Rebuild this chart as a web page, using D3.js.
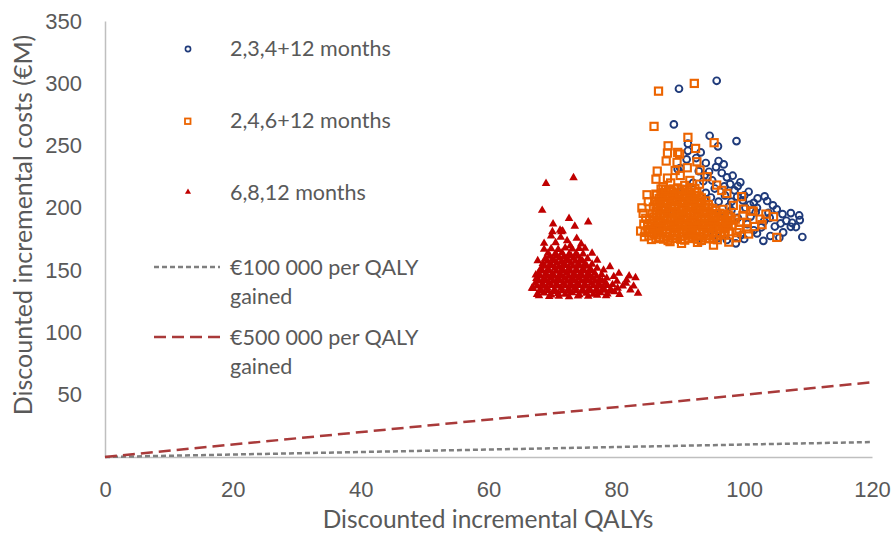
<!DOCTYPE html>
<html>
<head>
<meta charset="utf-8">
<script src="https://cdn.jsdelivr.net/npm/d3@7"></script>
<style>
  body { margin: 0; background: #fff; }
  svg { display: block; font-family: Lato, "Open Sans", sans-serif; }
</style>
</head>
<body>
<svg class="chart"></svg>
<script>
// Series: 2,3,4+12 months (blue circles)
const months234 = [
  [95.7,302],[89.8,295.6],[89.0,267],[94.6,257.9],[98.8,253.6],[95.9,249.4],[91.2,251.5],[91.2,245.8],
  [93.2,244.5],[91.0,238.9],[96.0,237.6],[96.8,234.9],[95.6,232.7],[89.6,231.1],[98.2,225.8],[97.3,224.5],
  [99.4,220.5],[99.0,217.5],[100.7,212.9],[103.2,209.2],[102.1,207.6],[103.6,205.5],[105.1,198.8],[107.3,195.8],
  [108.6,193.9],[108.7,190.2],[106.6,189.6],[105.7,187.5],[107.3,184.8],[108.1,184.6],[106.1,180.3],[109.1,176.6],
  [104.1,177.4],[102.7,184.4],[103.1,189.2],[102.0,179.5],[98.7,171.5],[97.3,174.2],[94.5,229],[93.8,226],
  [96.5,228],[95,222],[97.8,219],[98.5,214],[100,210],[101.5,204],[100.2,200],[104.5,202],[103.8,196],
  [101,193],[100.5,187],[104.8,185],[101.5,182],[99.5,178],[96,176],[93.5,173.5],[92,178],[90,232],
  [92.5,240],[94,236],[97,210],[96,205],[98,198],[99,192],[97,186],[95,182],[100,175],[103,173.5],
  [105.5,176],[92,220],[90.5,215],[89,205],[88,195],[87,185],[91,190],[93,200],[94,212],[92,205],
  [96,195],[98,205],[102,200],[106,195],[107.5,188],[104,192],[99.8,206],[101.8,196.5],[97.6,201],
  [95.4,215.5],[96.9,217.2],[94.8,208.3],[93.6,221.4],[92.9,229.5],[98.9,208.9],[100.9,202.5]
];

// Series: 2,4,6+12 months (orange squares)
const months246 = [
  [86.6,293.7],[92.2,299.9],[85.9,265.4],[91.2,256.6],[95.3,252.3],[92.4,247.7],[88.1,249.8],[88.0,244],
  [87.8,237.6],[89.6,244.5],[89.9,243.2],[89.5,236.5],[92.6,237],[86.4,229.5],[86.2,223],[88.0,223.9],
  [91.1,232.2],[84.8,210.5],[86.2,211],[84.2,195.6],[83.8,181.4],[90.2,171.5],[95.2,170.1],[88.5,220],
  [90,226],[91.5,222],[93,219],[89.2,230],[87.3,217],[90.7,218],[84.3,187],[84,200],[85,205],
  [85.5,174.6],[86.8,176.2],[88.1,173.8],[89.4,175.5],[90.7,174.1],[92.0,176.4],[93.3,173.9],[94.6,175.2],[95.8,174.4],
  [86.2,175.3],[87.4,174.9],[88.8,175.6],[90.1,174.7],[91.3,175.4],[92.7,174.8],[94.0,175.7],[95.2,174.9],
  [85.1,177.6],[86.4,178.3],[87.8,177.2],[89.1,177.9],[90.4,177.4],[91.7,178.1],[93.0,177.3],[94.3,177.8],[95.6,177.5],[96.9,178.2],
  [84.5,180.3],[85.9,179.1],[87.2,181.2],[88.4,179.6],[89.8,180.8],[91.1,178.9],[92.4,181.5],[93.7,179.4],[95.0,180.6],[96.3,179.2],[97.6,180.9],
  [85.2,180.1],[86.6,180.4],[87.8,179.8],[89.1,180.3],[90.5,179.9],[91.8,180.5],[93.0,180.0],[94.4,180.2],[95.7,179.8],[97.0,180.3],
  [85.2,182.6],[86.5,183.1],[87.9,182.4],[89.1,183.2],[90.5,182.7],[91.8,183.0],[93.1,182.5],[94.4,183.3],[95.7,182.8],[97.0,183.1],
  [84.9,185.6],[86.2,184.2],[87.5,186.1],[88.9,184.8],[90.2,185.9],[91.5,184.3],[92.8,186.4],[94.1,184.7],[95.4,185.8],[96.8,184.5],[98.1,186.2],
  [85.6,185.1],[86.9,185.3],[88.2,184.9],[89.6,185.4],[90.9,185.0],[92.2,185.5],[93.5,185.1],[94.8,185.3],[96.1,185.0],[97.5,185.4],
  [85.5,187.4],[86.9,188.0],[88.2,187.2],[89.6,187.9],[90.9,187.5],[92.2,188.1],[93.5,187.3],[94.8,187.8],[96.1,187.6],[97.4,188.2],
  [85.2,190.4],[86.6,189.1],[87.9,191.2],[89.2,189.6],[90.5,190.8],[91.9,189.3],[93.2,191.5],[94.5,189.8],[95.9,190.7],[97.2,189.4],[98.6,190.9],
  [85.9,190.2],[87.3,190.0],[88.6,190.5],[89.9,190.1],[91.2,190.3],[92.6,189.9],[93.9,190.4],[95.2,190.0],[96.6,190.3],[97.9,190.1],
  [85.9,192.7],[87.3,193.2],[88.6,192.4],[89.9,193.0],[91.2,192.6],[92.6,193.3],[93.9,192.5],[95.2,193.1],[96.6,192.8],
  [85.6,195.2],[86.9,194.1],[88.2,196.3],[89.6,194.6],[90.9,195.8],[92.2,194.4],[93.5,196.1],[94.9,194.9],[96.2,195.6],[97.5,194.3],
  [86.3,195.0],[87.6,195.3],[88.9,194.9],[90.3,195.2],[91.6,195.0],[92.9,195.4],[94.2,195.1],[95.6,195.3],[96.9,194.9],
  [86.2,197.6],[87.5,198.1],[88.9,197.3],[90.2,198.0],[91.6,197.5],[92.9,198.2],[94.2,197.4],[95.5,197.9],
  [85.8,200.6],[87.1,199.2],[88.5,201.1],[89.8,199.7],[91.2,200.9],[92.5,199.4],[93.8,200.8],[95.1,199.5],
  [86.5,200.1],[87.8,200.3],[89.2,199.9],[90.5,200.2],[91.9,200.0],[93.2,200.3],[94.5,200.1],
  [86.4,202.8],[87.8,203.3],[89.1,202.5],[90.4,203.1],[91.8,202.7],[93.1,203.4],[94.4,202.6],
  [86.0,205.4],[87.4,204.2],[88.7,206.1],[90.0,204.8],[91.4,205.9],[92.7,204.5],[94.0,205.6],
  [86.7,205.1],[88.1,205.0],[89.4,205.3],[90.7,205.1],[92.1,205.2],[93.4,204.9],
  [86.7,207.5],[88.0,208.1],[89.4,207.3],[90.7,207.9],[92.0,207.4],[93.3,208.0],
  [86.3,210.2],[87.6,209.3],[89.0,211.1],[90.3,209.6],[91.6,210.8],[92.9,209.4],
  [87.0,210.0],[88.3,210.1],[89.7,209.9],[91.0,210.2],[92.3,210.0],
  [87.3,212.3],[88.6,212.9],[89.9,212.1],[91.3,212.7],[92.6,212.4],
  [87.0,215.1],[88.3,214.2],[89.6,216.0],[91.0,214.6],[92.3,215.5],
  [87.7,214.9],[89.0,215.2],[90.3,214.8],[91.7,215.0],
  [99.2,183],[100.4,188],[101.6,185],[99.8,194],[101.1,197.5],[102.5,191],[103.4,195],[104.6,192.9],
  [105.1,176.3],[100.7,179],[98.8,176],[97.6,172.5],[101.4,197.4],[99.6,209],[97.3,211.6],[95.7,218.3],
  [94.2,225],[93.1,230.3],[96.5,214],[98.3,202],[99.9,199],[102.8,186.5],[100.5,183.2],[98.9,180.1],
  [97.9,192.6],[99.4,188.4],[96.7,198.8],[88.4,172.9],[92.7,172.3],[84.6,191.6],[84.4,176.8]
];

// Series: 6,8,12 months (red triangles)
const months6812 = [
  [69.0,219.6],[73.3,224.2],[68.4,198],[72.6,191.5],[75.6,188.6],[70.1,187],[73.5,185.2],[71.2,182],
  [71.6,181.4],[71.3,176.3],[69.8,177.4],[72.3,173.6],[73.8,175.5],[74.5,171],[70.5,172],[72.8,169.5],
  [70,180.8],[71.4,180.8],[68.7,171.5],[68.7,166.7],[67.7,157.5],[67.4,146.1],[66.8,135.4],
  [67.6,130.4],[68.7,131.6],[69.8,130.1],[70.9,131.3],[72.0,130.7],[73.1,131.9],[74.2,130.3],[75.3,131.5],[76.4,130.6],[77.5,131.8],[78.6,130.9],[79.7,132.7],
  [68.2,133.2],[69.3,133.6],[70.4,132.9],[71.5,133.4],[72.6,133.1],[73.7,133.7],[74.8,133.0],[75.9,133.5],[77.0,133.2],[78.1,133.8],[79.2,133.3],
  [67.0,135.2],[68.1,134.6],[69.2,135.8],[70.3,134.4],[71.4,135.6],[72.5,134.9],[73.6,135.9],[74.7,134.5],[75.8,135.3],[76.9,134.8],[78.0,135.7],[79.1,134.6],[80.2,135.4],[81.0,137.2],
  [67.6,137.3],[68.7,137.0],[69.8,137.6],[70.9,137.2],[72.0,137.5],[73.1,137.1],[74.2,137.7],[75.3,137.0],[76.4,137.4],[77.5,137.2],[78.6,137.6],
  [67.3,139.5],[68.4,138.7],[69.5,139.9],[70.6,138.6],[71.7,139.4],[72.8,138.8],[73.9,139.7],[75.0,138.5],[76.1,139.6],[77.2,138.9],[78.3,139.8],[79.4,138.4],
  [67.9,141.2],[69.0,141.5],[70.1,141.0],[71.2,141.6],[72.3,141.1],[73.4,141.4],[74.5,141.2],[75.6,141.7],[76.7,141.0],[77.8,141.3],
  [67.5,143.3],[68.6,142.6],[69.7,143.8],[70.8,142.9],[71.9,143.5],[73.0,142.7],[74.1,143.9],[75.2,142.8],[76.3,143.4],[77.4,142.5],[78.5,143.6],
  [68.1,145.2],[69.2,145.5],[70.3,145.0],[71.4,145.6],[72.5,145.1],[73.6,145.4],[74.7,145.2],[75.8,145.7],[76.9,145.0],
  [67.8,147.6],[68.9,146.8],[70.0,147.3],[71.1,146.5],[72.2,147.9],[73.3,146.7],[74.4,147.4],[75.5,146.9],[76.6,147.7],[77.7,146.4],
  [68.4,149.2],[69.5,149.5],[70.6,149.0],[71.7,149.6],[72.8,149.1],[73.9,149.4],[75.0,149.2],[76.1,149.7],
  [68.2,151.4],[69.3,150.7],[70.4,151.8],[71.5,150.9],[72.6,151.5],[73.7,150.6],[74.8,151.2],[75.9,150.8],[77.0,151.6],
  [68.8,153.1],[69.9,153.5],[71.0,153.0],[72.1,153.6],[73.2,153.2],[74.3,153.4],[75.4,153.1],
  [68.5,155.3],[69.6,154.6],[70.7,155.8],[71.8,154.9],[72.9,155.5],[74.0,154.7],[75.1,155.4],[76.2,154.8],
  [69.2,157.2],[70.3,157.5],[71.4,157.0],[72.5,157.6],[73.6,157.1],[74.7,157.4],
  [68.9,159.4],[70.0,158.7],[71.1,159.8],[72.2,158.9],[73.3,159.5],[74.4,158.6],[75.5,159.2],
  [69.6,161.2],[70.7,161.5],[71.8,161.0],[72.9,161.6],[74.0,161.1],
  [69.3,163.5],[70.4,162.8],[71.5,163.9],[72.6,162.7],[73.7,163.4],[74.8,162.9],
  [69.8,167.2],[70.9,166.6],[72.0,167.8],[73.1,166.9],[74.2,167.3],
  [83.4,131.4],[83.0,143.9],[82.0,145.3],[82.7,137.2],[80.4,147.4],[79.0,152.7],[78.0,150],[77.0,158],
  [76.2,163.5],[75.1,167.5],[81.6,142],[80.1,141],[82.2,134],[67.9,129.5],[71,129],[74,129.3],
  [77,129.8],[80.5,130.5],[81.5,139.5],[79.6,144.8],[69.5,128.8],[72.6,128.6],[75.6,129.1],[78.4,129.5]
];

// Willingness-to-pay thresholds (€M per QALY) and the QALY span they are drawn over
const thresholds = [
  {label: ["€100 000 per QALY", "gained"], rate: 0.1},
  {label: ["€500 000 per QALY", "gained"], rate: 0.5}
];
const qalyRange = [0, 120];

const xTicks = [0, 20, 40, 60, 80, 100, 120];
const yTicks = [50, 100, 150, 200, 250, 300, 350];

const width = 892;
const height = 538;
const marginLeft = 105;
const marginRight = 20;
const marginTop = 21;
const marginBottom = 81;

const textColor = "#595959";
const axisColor = "#bfbfbf";
const blue = "#1f3a7a";
const orange = "#ec6400";
const red = "#c00000";

const x = d3.scaleLinear().domain([0, 120]).range([marginLeft, width - marginRight]);
const y = d3.scaleLinear().domain([0, 350]).range([height - marginBottom, marginTop]);

const svg = d3.select("svg.chart")
  .attr("width", width)
  .attr("height", height)
  .attr("viewBox", `0 0 ${width} ${height}`);

// axes
svg.append("g")
  .attr("transform", `translate(0,${y(0)})`)
  .call(d3.axisBottom(x).tickValues(xTicks).tickSize(0).tickPadding(24))
  .call(g => g.select(".domain").attr("stroke", axisColor).attr("stroke-width", 1.5))
  .call(g => g.selectAll("text").attr("fill", textColor).style("font-size", "22px"));

svg.append("g")
  .attr("transform", `translate(${x(0)},0)`)
  .call(d3.axisLeft(y).tickValues(yTicks).tickSize(0).tickPadding(23))
  .call(g => g.select(".domain").attr("stroke", axisColor).attr("stroke-width", 1.5))
  .call(g => g.selectAll("text").attr("fill", textColor).style("font-size", "22px"));

// axis titles
svg.append("text")
  .attr("x", 488)
  .attr("y", 528)
  .attr("text-anchor", "middle")
  .attr("fill", textColor)
  .style("font-size", "24.5px")
  .text("Discounted incremental QALYs");

svg.append("text")
  .attr("transform", `translate(32,225) rotate(-90)`)
  .attr("text-anchor", "middle")
  .attr("fill", textColor)
  .style("font-size", "25px")
  .text("Discounted incremental costs (€M)");

// threshold lines
const lineStyles = [
  {stroke: "#7f7f7f", dash: "5,3"},
  {stroke: "#a93a3a", dash: "12,6"}
];
const line = d3.line().x(d => x(d[0])).y(d => y(d[1]));

svg.append("g")
  .selectAll("path")
  .data(thresholds)
  .join("path")
  .attr("fill", "none")
  .attr("stroke", (d, i) => lineStyles[i].stroke)
  .attr("stroke-width", 2.5)
  .attr("stroke-dasharray", (d, i) => lineStyles[i].dash)
  .attr("d", d => line(qalyRange.map(q => [q, q * d.rate])));

// scatter
const triangle = d3.symbol().type(d3.symbolTriangle).size(32);

svg.append("g")
  .selectAll("circle")
  .data(months234)
  .join("circle")
  .attr("cx", d => x(d[0]))
  .attr("cy", d => y(d[1]))
  .attr("r", 3.4)
  .attr("fill", "none")
  .attr("stroke", blue)
  .attr("stroke-width", 1.9);

svg.append("g")
  .selectAll("rect")
  .data(months246)
  .join("rect")
  .attr("x", d => x(d[0]) - 3.6)
  .attr("y", d => y(d[1]) - 3.6)
  .attr("width", 7.2)
  .attr("height", 7.2)
  .attr("fill", "none")
  .attr("stroke", orange)
  .attr("stroke-width", 2.1);

svg.append("g")
  .selectAll("path")
  .data(months6812)
  .join("path")
  .attr("transform", d => `translate(${x(d[0])},${y(d[1])})`)
  .attr("d", triangle)
  .attr("fill", red);

// legend
const legend = svg.append("g").style("font-size", "21.5px").attr("fill", textColor);

legend.append("circle").attr("cx", 188).attr("cy", 49).attr("r", 2.6)
  .attr("fill", "#fff").attr("stroke", blue).attr("stroke-width", 1.6);
legend.append("text").attr("x", 230).attr("y", 56).text("2,3,4+12 months");

legend.append("rect").attr("x", 185).attr("y", 118.5).attr("width", 5.5).attr("height", 5.5)
  .attr("fill", "#fff").attr("stroke", orange).attr("stroke-width", 1.8);
legend.append("text").attr("x", 230).attr("y", 128).text("2,4,6+12 months");

legend.append("path").attr("transform", "translate(188,192)").attr("d", d3.symbol().type(d3.symbolTriangle).size(16))
  .attr("fill", red);
legend.append("text").attr("x", 230).attr("y", 200).text("6,8,12 months");

const legendLineY = [267, 337];
thresholds.forEach((t, i) => {
  legend.append("line")
    .attr("x1", 154).attr("x2", 220)
    .attr("y1", legendLineY[i]).attr("y2", legendLineY[i])
    .attr("stroke", lineStyles[i].stroke)
    .attr("stroke-width", 2.5)
    .attr("stroke-dasharray", lineStyles[i].dash);
  legend.append("text")
    .attr("x", 230).attr("y", legendLineY[i] + 8)
    .text(t.label[0]);
  legend.append("text")
    .attr("x", 230).attr("y", legendLineY[i] + 8 + 29)
    .text(t.label[1]);
});
</script>
</body>
</html>
